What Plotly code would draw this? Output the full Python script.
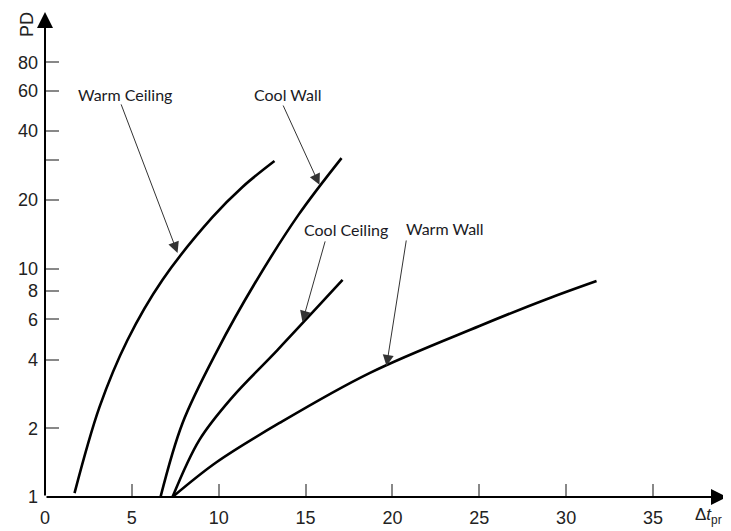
import plotly.graph_objects as go

# ---- data ----
warm_ceiling_x = [1.70, 3.14, 4.75, 6.76, 9.64, 11.37, 13.21]
warm_ceiling_y = [1.04, 2.48, 4.87, 8.92, 16.8, 22.8, 29.6]

cool_wall_x = [6.65, 7.92, 9.93, 12.09, 14.59, 17.07]
cool_wall_y = [1.0, 2.11, 4.40, 8.65, 17.2, 30.5]

cool_ceiling_x = [7.34, 8.89, 10.79, 13.38, 17.13]
cool_ceiling_y = [1.0, 1.78, 2.74, 4.40, 8.92]

warm_wall_x = [7.34, 9.87, 13.50, 18.68, 25.01, 28.87, 31.75]
warm_wall_y = [1.0, 1.42, 2.11, 3.49, 5.61, 7.35, 8.83]

x_ticks = [0, 5, 10, 15, 20, 25, 30, 35]
y_ticks = [1, 2, 4, 6, 8, 10, 20, 30, 40, 60, 80]
y_tick_text = ["1", "2", "4", "6", "8", "10", "20", "", "40", "60", "80"]

series = [
    ("Warm Ceiling", warm_ceiling_x, warm_ceiling_y),
    ("Cool Wall", cool_wall_x, cool_wall_y),
    ("Cool Ceiling", cool_ceiling_x, cool_ceiling_y),
    ("Warm Wall", warm_wall_x, warm_wall_y),
]

fig = go.Figure()
for name, xs, ys in series:
    fig.add_trace(go.Scatter(x=xs, y=ys, mode="lines", name=name,
                             line=dict(color="black", width=2.6, shape="spline", smoothing=1.0),
                             hoverinfo="skip"))

XMAX = 39.26
YMAX_LOG = 2.124

label_font = dict(family="Lato, Noto Sans, sans-serif", size=16, color="#1a1a24")
# (text, text x, text log-y, arrow tail x, tail log-y, arrow tip x, tip log-y)
labels = [
    ("Warm Ceiling", 1.81, 1.761, 4.35, 1.726, 7.63, 1.069),
    ("Cool Wall", 11.89, 1.761, 13.67, 1.721, 15.80, 1.367),
    ("Cool Ceiling", 14.82, 1.170, 16.15, 1.126, 14.82, 0.767),
    ("Warm Wall", 20.64, 1.174, 20.81, 1.130, 19.66, 0.574),
]
anns = []
for text, tx, ty, ax_, ay_, hx, hy in labels:
    anns.append(dict(x=tx, y=ty, xref="x", yref="y", text=text, showarrow=False,
                     xanchor="left", yanchor="middle", font=label_font))
    anns.append(dict(x=hx, y=hy, xref="x", yref="y", ax=ax_, ay=ay_, axref="x", ayref="y",
                     text="", showarrow=True, arrowhead=2, arrowsize=2.2, arrowwidth=1,
                     arrowcolor="#333333", standoff=0))

# axis arrows
anns.append(dict(x=XMAX, y=0, xref="x", yref="y", ax=0, ay=0, axref="x", ayref="y",
                 text="", showarrow=True, arrowhead=2, arrowsize=1.6, arrowwidth=2,
                 arrowcolor="black", standoff=0))
anns.append(dict(x=0, y=YMAX_LOG, xref="x", yref="y", ax=0, ay=0, axref="x", ayref="y",
                 text="", showarrow=True, arrowhead=2, arrowsize=1.6, arrowwidth=2,
                 arrowcolor="black", standoff=0))

title_font = dict(family="Liberation Sans, Arial, sans-serif", size=18, color="#222")
# axis titles
anns.append(dict(x=37.3, y=-0.04, xref="x", yref="paper", text="Δ<i>t</i><sub>pr</sub>",
                 showarrow=False, xanchor="left", yanchor="middle",
                 font=dict(family="Liberation Sans, Arial, sans-serif", size=17, color="#222")))
anns.append(dict(x=-0.0264, y=0.975, xref="paper", yref="paper", text="PD", showarrow=False,
                 textangle=-90, xanchor="center", yanchor="middle", font=title_font))

tick_font = dict(family="Liberation Sans, Arial, sans-serif", size=18, color="#222")

# the page body adds an 8px margin, so the figure is 8px smaller than the window
fig.update_layout(
    width=723, height=523,
    margin=dict(l=37, r=4, t=4, b=34, autoexpand=False),
    paper_bgcolor="white", plot_bgcolor="white",
    showlegend=False,
    annotations=anns,
    xaxis=dict(range=[0, XMAX], tickvals=x_ticks, ticks="inside", ticklen=13,
               tickcolor="#888888", tickwidth=1.5, showgrid=False, zeroline=False,
               showline=False, tickfont=tick_font, ticklabelstandoff=8, automargin=False),
    yaxis=dict(type="log", range=[0, YMAX_LOG], tickvals=y_ticks, ticktext=y_tick_text,
               ticks="inside", ticklen=14, tickcolor="#888888", tickwidth=1.5,
               showgrid=False, zeroline=False, showline=False, tickfont=tick_font,
               ticklabelstandoff=6, automargin=False),
)

fig.write_html("out.html", config={"displayModeBar": False})
